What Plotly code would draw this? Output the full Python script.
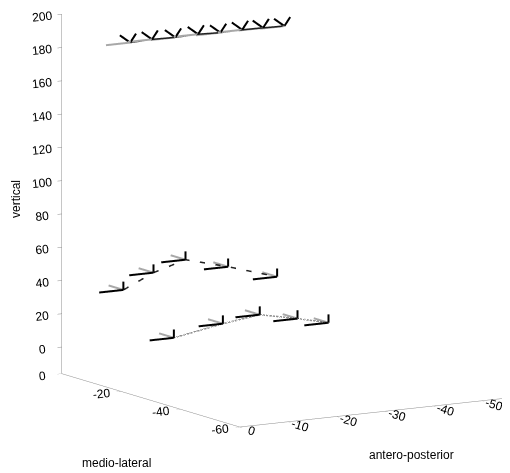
import plotly.graph_objects as go

# ---------------- data (antero-posterior, medio-lateral, vertical) ----------------
head_ap = [-8.0, -12.5, -17.3, -22.0, -26.6, -31.1, -35.4, -39.8]
head_ml = [-10.0, -10.0, -10.0, -10.0, -10.0, -10.0, -10.0, -10.0]
head_z = [185.8, 186.3, 186.0, 186.4, 185.9, 186.2, 186.0, 185.7]

knee_ap = [-6.6, -12.8, -19.4, -28.2, -38.3]
knee_ml = [-10.0, -10.0, -10.0, -10.0, -10.0]
knee_z = [37.6, 46.0, 51.7, 44.7, 35.5]

foot_ap = [-10.9, -21.0, -28.6, -36.4, -42.8]
foot_ml = [-20.0, -20.0, -20.0, -20.0, -20.0]
foot_z = [12.8, 18.1, 21.1, 16.3, 11.8]

# orientation axes of each local frame (ap, ml, z components)
leg_black_axes = [(5.0, 0.0, 0.0), (0.0, 0.0, 5.0)]
leg_gray_axes = [(0.0, 5.0, 0.0)]
head_black_axes = [(-1.2, 0.0, 5.0), (0.0, 3.5, 2.5)]
head_gray_axes = [(5.0, 0.0, 0.0)]

ap_ticks = [0, -10, -20, -30, -40, -50, -60]
ap_labels = ["0", "-10", "-20", "-30", "-40", "-50", "-60"]
ml_ticks = [0, -20, -40, -60]
ml_labels = ["0", "-20", "-40", "-60"]
z_ticks = [0, 20, 40, 60, 80, 100, 120, 140, 160, 180, 200]
z_labels = [str(v) for v in z_ticks]


def segments(ap, ml, z, axes):
    xs, ys, zs = [], [], []
    for a, m, v in zip(ap, ml, z):
        for da, dm, dz in axes:
            xs += [a, a + da, None]
            ys += [m, m + dm, None]
            zs += [v, v + dz, None]
    return xs, ys, zs


fig = go.Figure()

groups = [
    (head_ap, head_ml, head_z, head_black_axes, head_gray_axes, "solid"),
    (knee_ap, knee_ml, knee_z, leg_black_axes, leg_gray_axes, "longdash"),
    (foot_ap, foot_ml, foot_z, leg_black_axes, leg_gray_axes, "dot"),
]

for ap, ml, z, black_axes, gray_axes, dash in groups:
    gx, gy, gz = segments(ap, ml, z, gray_axes)
    fig.add_trace(go.Scatter3d(x=gx, y=gy, z=gz, mode="lines",
                               line=dict(color="#a8a8a8", width=4),
                               hoverinfo="skip"))
    fig.add_trace(go.Scatter3d(x=ap, y=ml, z=z, mode="lines",
                               line=dict(color="#222222", width=3, dash=dash),
                               hoverinfo="skip"))
    bx, by, bz = segments(ap, ml, z, black_axes)
    fig.add_trace(go.Scatter3d(x=bx, y=by, z=bz, mode="lines",
                               line=dict(color="black", width=4),
                               hoverinfo="skip"))

axis_common = dict(showbackground=False, showgrid=False, zeroline=False,
                   showline=True, linecolor="#8c8c8c", linewidth=1,
                   ticks="outside", ticklen=5, tickcolor="#8c8c8c",
                   showspikes=False, title=dict(text=""),
                   tickfont=dict(size=12, color="black",
                                 family="Liberation Sans, Arial, sans-serif"))

e = (-0.506, -0.842, 0.18)
dist = 2.0
c = (-0.1357, 0.0464, -0.1648)

fig.update_layout(
    width=510, height=473,
    margin=dict(l=0, r=0, t=0, b=0),
    paper_bgcolor="white",
    showlegend=False,
    font=dict(family="Liberation Sans, Arial, sans-serif", size=12, color="black"),
    scene=dict(
        domain=dict(x=[0, 1], y=[0, 1]),
        aspectmode="manual",
        aspectratio=dict(x=1.435, y=1.46, z=1.545),
        xaxis=dict(range=[0, -60], tickvals=ap_ticks, ticktext=ap_labels, **axis_common),
        yaxis=dict(range=[-60, 0], tickvals=ml_ticks, ticktext=ml_labels, **axis_common),
        zaxis=dict(range=[-16, 200], tickvals=z_ticks, ticktext=z_labels, **axis_common),
        camera=dict(projection=dict(type="orthographic"),
                    up=dict(x=0, y=0, z=1),
                    center=dict(x=c[0], y=c[1], z=c[2]),
                    eye=dict(x=c[0] + e[0] * dist, y=c[1] + e[1] * dist,
                             z=c[2] + e[2] * dist)),
    ),
    annotations=[
        dict(text="vertical", x=8, y=191, showarrow=False, textangle=-90),
        dict(text="medio-lateral", x=108, y=455, showarrow=False),
        dict(text="antero-posterior", x=403, y=447, showarrow=False),
    ],
)

# annotation positions given in pixels -> convert to paper fractions
for ann in fig.layout.annotations:
    ann.xref = "paper"
    ann.yref = "paper"
    ann.xanchor = "center"
    ann.yanchor = "middle"
    ann.x = ann.x / 510.0
    ann.y = 1 - ann.y / 473.0
    ann.font = dict(size=12, color="black")

fig.write_html("out.html", config=dict(displayModeBar=False))
